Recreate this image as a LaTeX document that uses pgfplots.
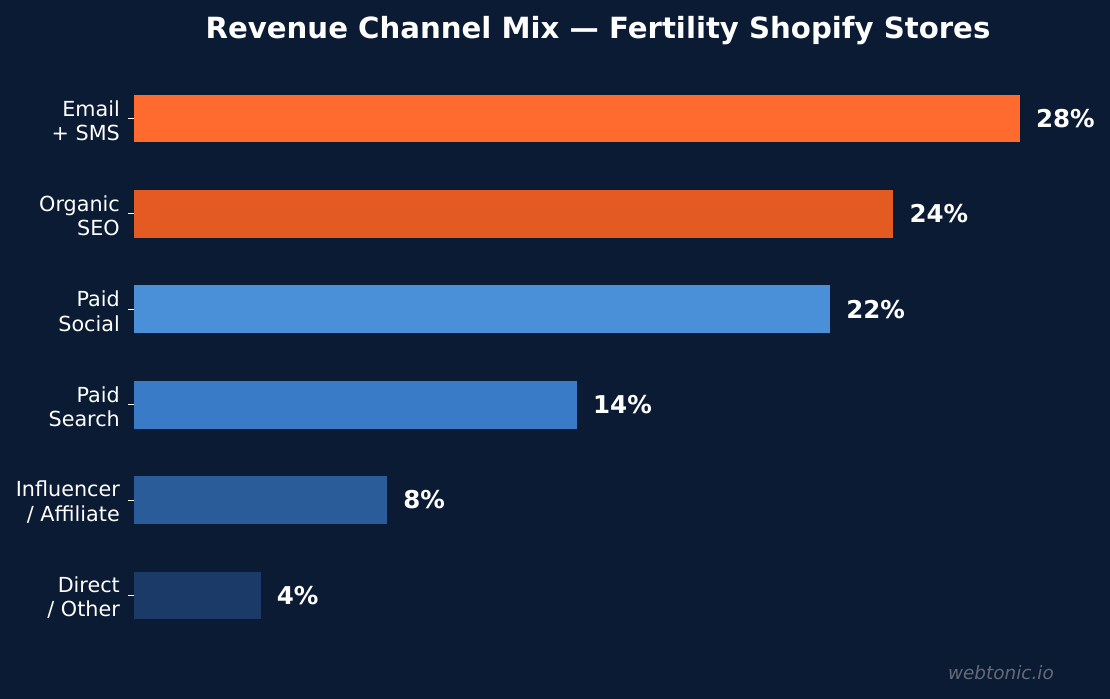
\documentclass[border=0pt]{standalone}
\usepackage{fontspec}
\setmainfont{DejaVu Sans}
\usepackage{pgfplots}
\pgfplotsset{compat=1.18}
\definecolor{bg}{HTML}{0B1B33}
\definecolor{c1}{HTML}{FF6B2F}
\definecolor{c2}{HTML}{E35A22}
\definecolor{c3}{HTML}{4A90D9}
\definecolor{c4}{HTML}{3A7BC8}
\definecolor{c5}{HTML}{2B5C9A}
\definecolor{c6}{HTML}{1B3A68}
\definecolor{wm}{RGB}{100,106,118}
\begin{document}
\begin{tikzpicture}[x=1bp,y=1bp]
\fill[bg] (0,0) rectangle (1110,699);
\begin{axis}[
  at={(134bp,32bp)}, anchor=south west,
  scale only axis, width=930.2bp, height=620bp,
  xmin=0, xmax=29.4, ymin=-0.75, ymax=5.75,
  xbar, bar width=0.5, bar shift=0pt,
  axis line style={draw=none},
  xtick=\empty,
  ytick={0,1,2,3,4,5},
  yticklabels={{Direct\\/ Other},{Influencer\\/ Affiliate},{Paid\\Search},{Paid\\Social},{Organic\\SEO},{Email\\+ SMS}},
  yticklabel style={align=right, text=white, font=\fontsize{20.8}{24.5}\selectfont, inner sep=0pt, xshift=-8bp, yshift=-2bp},
  ytick pos=left, tick align=outside,
  major tick length=6bp,
  ytick style={white, line width=1.1bp},
  /pgf/number format/assume math mode=true,
  nodes near coords={\pgfmathprintnumber{\pgfplotspointmeta}\%},
  every node near coord/.append style={anchor=west, inner sep=0pt, xshift=16bp, text=white, font=\bfseries\fontsize{24.6}{28}\selectfont},
]
\addplot[draw=none, fill=c6] coordinates {(4,0)};
\addplot[draw=none, fill=c5] coordinates {(8,1)};
\addplot[draw=none, fill=c4] coordinates {(14,2)};
\addplot[draw=none, fill=c3] coordinates {(22,3)};
\addplot[draw=none, fill=c2] coordinates {(24,4)};
\addplot[draw=none, fill=c1] coordinates {(28,5)};
\end{axis}
\node[anchor=base, text=white, font=\bfseries\fontsize{29.3}{34}\selectfont] at (598,660) {Revenue Channel Mix — Fertility Shopify Stores};
\node[anchor=base east, text=wm, font=\itshape\fontsize{18.5}{22}\selectfont, inner sep=0pt] at (1054,19) {webtonic.io};
\end{tikzpicture}
\end{document}
